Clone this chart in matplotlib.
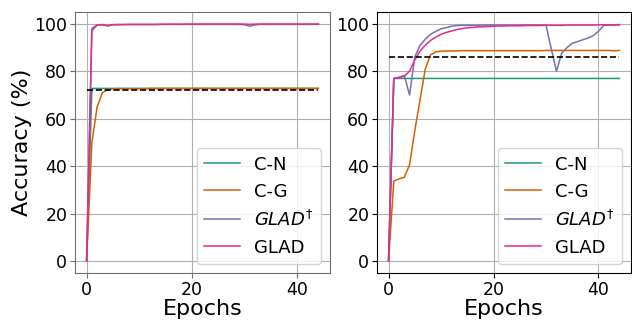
import numpy as np
import matplotlib.pyplot as plt

epochs = np.arange(45)

# left panel
cn_left = [0, 72.8, 72.8, 72.8, 72.8, 72.8, 72.8, 72.8, 72.8, 72.8,
           72.8, 72.8, 72.8, 72.8, 72.8, 72.8, 72.8, 72.8, 72.8, 72.8,
           72.8, 72.8, 72.8, 72.8, 72.8, 72.8, 72.8, 72.8, 72.8, 72.8,
           72.8, 72.8, 72.8, 72.8, 72.8, 72.8, 72.8, 72.8, 72.8, 72.8,
           72.8, 72.8, 72.8, 72.8, 72.8]
cg_left = [0, 50.0, 65.0, 71.0, 72.3, 72.6, 72.7, 72.7, 72.7, 72.7,
           72.7, 72.7, 72.8, 72.8, 72.8, 72.8, 72.8, 72.8, 72.8, 72.8,
           72.8, 72.8, 72.8, 72.8, 72.8, 72.8, 72.8, 72.8, 72.8, 72.8,
           72.8, 72.8, 72.8, 72.8, 72.8, 72.8, 72.8, 72.8, 72.8, 72.8,
           72.8, 72.8, 72.8, 72.8, 72.8]
gladd_left = [0, 97.0, 99.5, 99.6, 99.1, 99.6, 99.7, 99.7, 99.7, 99.7,
              99.7, 99.7, 99.7, 99.7, 99.8, 99.8, 99.8, 99.8, 99.8, 99.8,
              99.8, 99.8, 99.8, 99.8, 99.8, 99.8, 99.8, 99.8, 99.8, 99.8,
              99.6, 99.0, 99.6, 99.8, 99.8, 99.8, 99.8, 99.8, 99.8, 99.8,
              99.8, 99.8, 99.8, 99.8, 99.9]
glad_left = [0, 98.0, 99.6, 99.7, 99.3, 99.7, 99.7, 99.7, 99.8, 99.8,
             99.8, 99.8, 99.8, 99.8, 99.8, 99.8, 99.9, 99.8, 99.8, 99.9,
             99.9, 99.9, 99.9, 99.9, 99.9, 99.9, 99.9, 99.9, 99.9, 99.9,
             99.9, 99.8, 99.9, 99.9, 99.9, 99.9, 99.9, 99.9, 99.9, 99.9,
             99.9, 99.9, 99.9, 99.9, 99.9]
baseline_left = 72.0

# right panel
cn_right = [0, 77.0, 77.0, 77.0, 77.0, 77.0, 77.0, 77.0, 77.0, 77.0,
            77.0, 77.0, 77.0, 77.0, 77.0, 77.0, 77.0, 77.0, 77.0, 77.0,
            77.0, 77.0, 77.0, 77.0, 77.0, 77.0, 77.0, 77.0, 77.0, 77.0,
            77.0, 77.0, 77.0, 77.0, 77.0, 77.0, 77.0, 77.0, 77.0, 77.0,
            77.0, 77.0, 77.0, 77.0, 77.0]
cg_right = [0, 33.7, 34.7, 35.3, 40.5, 55.0, 68.0, 81.0, 86.9, 88.2,
            88.5, 88.6, 88.6, 88.6, 88.7, 88.7, 88.7, 88.7, 88.7, 88.7,
            88.7, 88.7, 88.7, 88.7, 88.7, 88.7, 88.7, 88.7, 88.7, 88.7,
            88.8, 88.8, 88.8, 88.8, 88.8, 88.8, 88.8, 88.8, 88.8, 88.8,
            88.8, 88.8, 88.8, 88.6, 88.8]
gladd_right = [0, 77.0, 77.5, 78.3, 70.0, 86.0, 91.0, 93.5, 95.6, 96.8,
               97.9, 98.4, 99.0, 99.3, 99.4, 99.4, 99.4, 99.4, 99.5, 99.5,
               99.5, 99.5, 99.5, 99.5, 99.5, 99.5, 99.5, 99.5, 99.5, 99.5,
               99.5, 89.5, 80.0, 87.7, 90.0, 91.8, 92.5, 93.3, 94.0, 95.0,
               96.9, 99.3, 99.5, 99.5, 99.6]
glad_right = [0, 77.0, 77.3, 78.0, 80.0, 84.8, 88.5, 91.0, 93.0, 94.4,
              95.6, 96.4, 97.0, 97.6, 98.0, 98.3, 98.5, 98.7, 98.8, 98.9,
              99.0, 99.1, 99.1, 99.2, 99.2, 99.2, 99.3, 99.3, 99.3, 99.3,
              99.4, 99.4, 99.4, 99.4, 99.5, 99.5, 99.5, 99.5, 99.5, 99.5,
              99.6, 99.6, 99.6, 99.6, 99.7]
baseline_right = 86.0

labels = ['C-N', 'C-G', r'$GLAD^{\dagger}$', 'GLAD']
colors = ['#1b9e77', '#d95f02', '#7570b3', '#e7298a']

fig = plt.figure(figsize=(6.32, 3.2), dpi=100)
ax1 = fig.add_axes([75 / 632, 47 / 320, 255 / 632, 261 / 320])
ax2 = fig.add_axes([377 / 632, 47 / 320, 254 / 632, 261 / 320])

panels = [
    (ax1, [cn_left, cg_left, gladd_left, glad_left], baseline_left),
    (ax2, [cn_right, cg_right, gladd_right, glad_right], baseline_right),
]

for ax, series, base in panels:
    for ys, lab, c in zip(series, labels, colors):
        ax.plot(epochs, ys, color=c, label=lab, linewidth=1.1)
    ax.plot([epochs[0], epochs[-1]], [base, base], 'k--', linewidth=1.2)
    ax.set_ylim(-5, 105)
    ax.set_yticks([0, 20, 40, 60, 80, 100])
    ax.set_xticks([0, 20, 40])
    ax.grid(True, color='#b0b0b0', linewidth=0.8)
    ax.tick_params(labelsize=12.5, pad=2)
    ax.set_xlabel('Epochs', fontsize=16, labelpad=0)
    ax.legend(loc='lower right', fontsize=13)

# left panel frame looks grey in the original
for sp in ax1.spines.values():
    sp.set_color('#707070')
ax1.tick_params(color='#707070')

ax1.set_ylabel('Accuracy (%)', fontsize=16, labelpad=2)

fig.savefig('out.png', dpi=100)
